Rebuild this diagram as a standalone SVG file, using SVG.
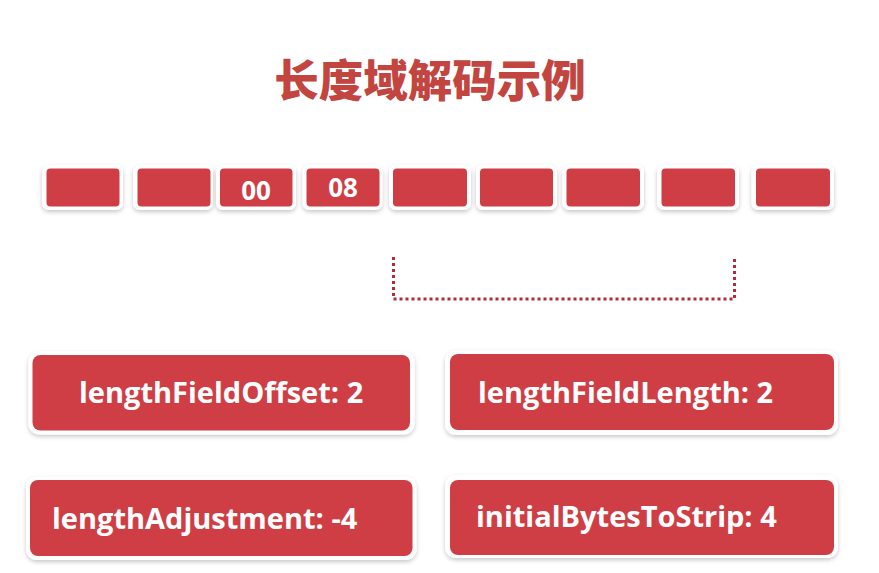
<svg xmlns="http://www.w3.org/2000/svg" width="879" height="573" viewBox="0 0 879 573">
  <defs>
    <filter id="shadow" x="-10%" y="-20%" width="120%" height="150%">
      <feDropShadow dx="0" dy="2" stdDeviation="2" flood-color="#000" flood-opacity="0.22"/>
    </filter>
  </defs>
  <style>
    .frame { fill: #ffffff; filter: url(#shadow); }
    .cell { fill: #cf3e44; }
    .title { font-family: "Noto Sans CJK SC", "Noto Sans", sans-serif; font-weight: 900; font-size: 44.5px; fill: #c2453f; }
    .byte { font-family: "Open Sans", "Noto Sans", sans-serif; font-weight: 700; font-size: 26px; fill: #ffffff; text-anchor: middle; }
    .param { font-family: "Open Sans", "Noto Sans", sans-serif; font-weight: 700; font-size: 29px; fill: #ffffff; }
    .bracket { fill: none; stroke: #b32b3c; stroke-width: 3; stroke-dasharray: 3 3; }
  </style>
  <rect width="879" height="573" fill="#ffffff"/>

  <text class="title" x="430" y="97" text-anchor="middle">长度域解码示例</text>

  <!-- byte cells -->
  <g id="byte1"><rect class="frame" x="42" y="165" width="81" height="45" rx="7"/><rect class="cell" x="46.5" y="168.5" width="73" height="38" rx="4"/></g>
  <g id="byte2"><rect class="frame" x="133" y="165" width="80" height="45" rx="7"/><rect class="cell" x="137.5" y="168.5" width="73" height="38" rx="4"/></g>
  <g id="byte3"><rect class="frame" x="216" y="165" width="80" height="45" rx="7"/><rect class="cell" x="220" y="168.5" width="72.5" height="38" rx="4"/><text class="byte" x="256" y="199.5">00</text></g>
  <g id="byte4"><rect class="frame" x="302.5" y="165" width="80" height="45" rx="7"/><rect class="cell" x="306.5" y="168.5" width="73" height="38" rx="4"/><text class="byte" x="343" y="197">08</text></g>
  <g id="byte5"><rect class="frame" x="389" y="165" width="82" height="45" rx="7"/><rect class="cell" x="393" y="168.5" width="74" height="38" rx="4"/></g>
  <g id="byte6"><rect class="frame" x="476" y="165" width="81" height="45" rx="7"/><rect class="cell" x="480" y="168.5" width="73" height="38" rx="4"/></g>
  <g id="byte7"><rect class="frame" x="562.5" y="165" width="81.5" height="45" rx="7"/><rect class="cell" x="566.5" y="168.5" width="73.5" height="38" rx="4"/></g>
  <g id="byte8"><rect class="frame" x="657" y="165" width="82" height="45" rx="7"/><rect class="cell" x="661.5" y="168.5" width="73.5" height="38" rx="4"/></g>
  <g id="byte9"><rect class="frame" x="751.5" y="165" width="82.5" height="45" rx="7"/><rect class="cell" x="756" y="168.5" width="74" height="38" rx="4"/></g>

  <!-- dotted span bracket -->
  <g id="connectors">
    <path class="bracket" d="M393.5 257 V299 H734.5 V257"/>
  </g>

  <!-- parameter boxes -->
  <g id="offset">
    <rect class="frame" x="28.5" y="351.5" width="386" height="83" rx="11"/>
    <rect class="cell" x="32.5" y="355" width="377.5" height="75.5" rx="8"/>
    <text class="param" x="79" y="403">lengthFieldOffset: 2</text>
  </g>
  <g id="length">
    <rect class="frame" x="445" y="350" width="393" height="85" rx="11"/>
    <rect class="cell" x="450" y="354" width="384" height="76" rx="8"/>
    <text class="param" x="478" y="403">lengthFieldLength: 2</text>
  </g>
  <g id="adjustment">
    <rect class="frame" x="26" y="476.5" width="390.5" height="83.5" rx="11"/>
    <rect class="cell" x="30" y="480" width="382.5" height="76" rx="8"/>
    <text class="param" x="52" y="528.5">lengthAdjustment: -4</text>
  </g>
  <g id="strip">
    <rect class="frame" x="445" y="475" width="393" height="83" rx="11"/>
    <rect class="cell" x="450" y="480" width="384" height="75" rx="8"/>
    <text class="param" x="476" y="527">initialBytesToStrip: 4</text>
  </g>
</svg>
